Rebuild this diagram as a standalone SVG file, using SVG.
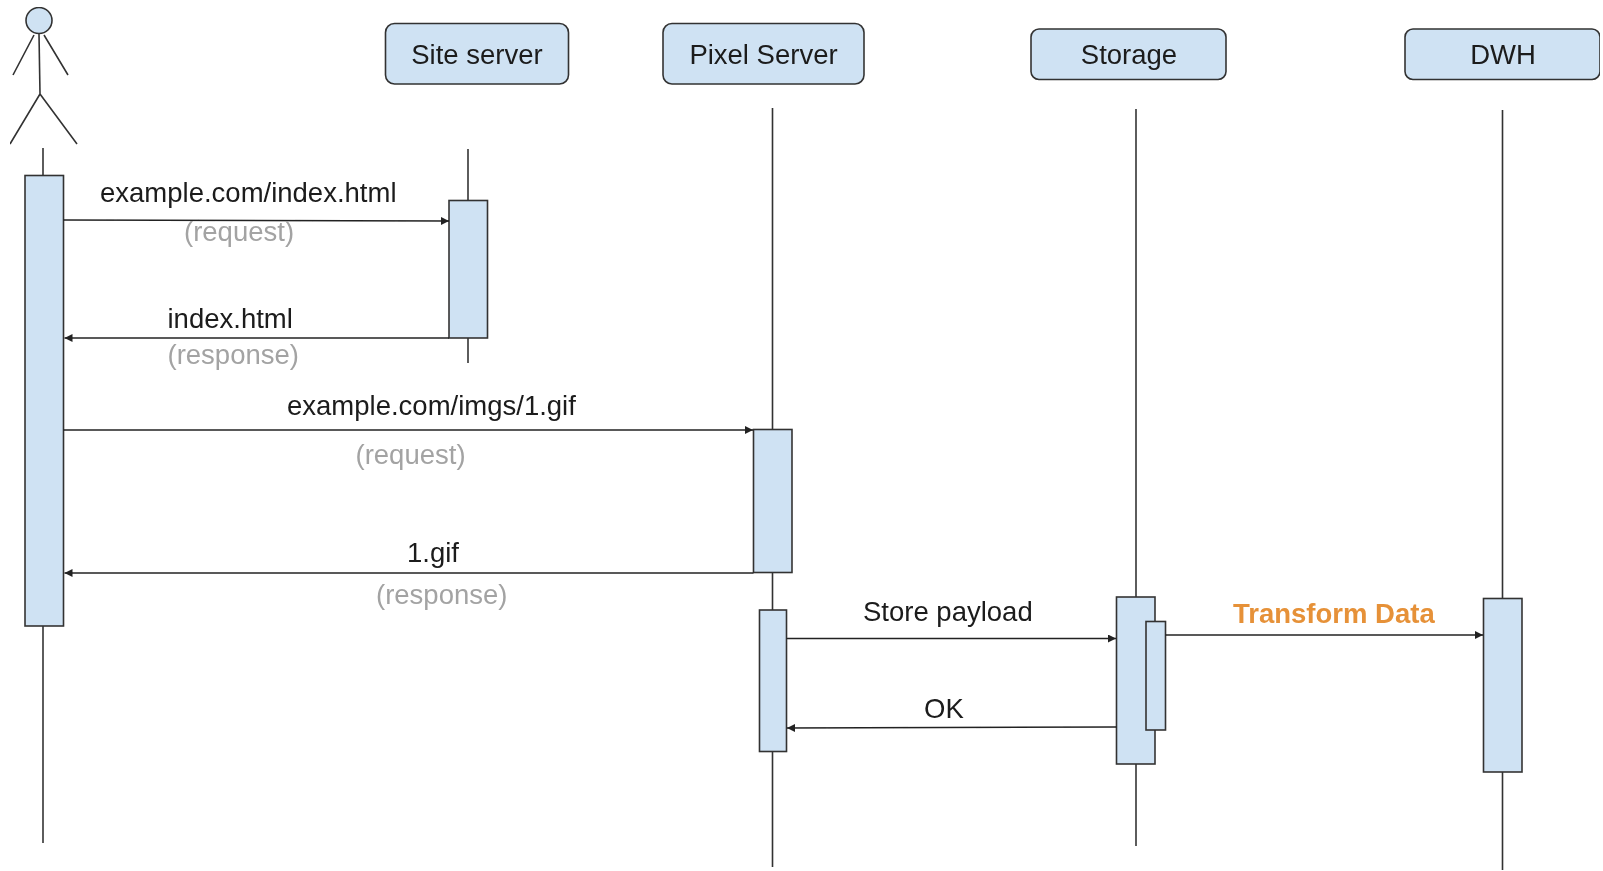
<svg xmlns="http://www.w3.org/2000/svg" width="1603" height="871" viewBox="0 0 1603 871">
<style>
text{font-family:"Liberation Sans",Arial,sans-serif;font-size:27.500px;fill:#1a1a1a}
.m{text-anchor:middle}
.g{fill:#a3a3a3}
.o{fill:#e69138;font-weight:bold}
.b{fill:#cfe2f3;stroke:#333;stroke-width:1.600}
.l{fill:none;stroke:#333;stroke-width:1.600}
.c{fill:none;stroke:#222;stroke-width:1.600;marker-end:url(#a)}
</style>
<defs>
<marker id="a" markerUnits="userSpaceOnUse" markerWidth="10" markerHeight="10" refX="8" refY="4" orient="auto"><path d="M0 0L8 4L0 8z" fill="#222"/></marker>
<filter id="s" x="0" y="0" width="100%" height="100%"><feGaussianBlur stdDeviation="0.500"/></filter>
</defs>
<rect width="1603" height="871" fill="#fff"/>
<g filter="url(#s)">
<g id="lifelines">
<path class="l" d="M43 148V176M43 626V843"/>
<path class="l" d="M468 149V200M468 338V363"/>
<path class="l" d="M772.500 108V429M772.500 572V610M772.500 751V867"/>
<path class="l" d="M1136 109V597M1136 764V846"/>
<path class="l" d="M1502.500 110V598M1502.500 772V870"/>
</g>
<g id="actor"><circle class="b" cx="39" cy="20.500" r="13"/><path class="l" d="M39 34L40 94M34 35L13 75M44 35L68 75M40 94L10 144M40 94L77 144"/></g>
<g id="site-server"><rect class="b" x="385.500" y="23.500" width="183" height="60.500" rx="9"/><text class="m" x="477" y="64">Site server</text></g>
<g id="pixel-server"><rect class="b" x="663" y="23.500" width="201" height="60.500" rx="9"/><text class="m" x="763.500" y="64">Pixel Server</text></g>
<g id="storage"><rect class="b" x="1031" y="29" width="195" height="50.500" rx="8"/><text class="m" x="1129" y="64">Storage</text></g>
<g id="dwh"><rect class="b" x="1405" y="29" width="195" height="50.500" rx="8"/><text class="m" x="1503" y="64">DWH</text></g>
<g id="act-actor"><rect class="b" x="25" y="175.500" width="38.500" height="450.500"/></g>
<g id="act-site"><rect class="b" x="449" y="200.500" width="38.500" height="137.500"/></g>
<g id="act-pixel-1"><rect class="b" x="753.500" y="429.500" width="38.500" height="143"/></g>
<g id="act-pixel-2"><rect class="b" x="759.500" y="610" width="27" height="141.500"/></g>
<g id="act-storage"><rect class="b" x="1116.500" y="597" width="38.500" height="167"/></g>
<g id="act-storage-2"><rect class="b" x="1146" y="621.500" width="19.500" height="108.500"/></g>
<g id="act-dwh"><rect class="b" x="1483.500" y="598.500" width="38.500" height="173.500"/></g>
<g id="connectors">
<path class="c" d="M63.500 220L449 221"/>
<path class="c" d="M449 338H64.500"/>
<path class="c" d="M63.500 430H753"/>
<path class="c" d="M753.500 573H64.500"/>
<path class="c" d="M786.500 638.500H1116"/>
<path class="c" d="M1116.500 727L787 728"/>
<path class="c" d="M1165.500 635H1483"/>
</g>
<g id="labels">
<text x="100" y="202">example.com/index.html</text>
<text class="g" x="184" y="241">(request)</text>
<text x="167.500" y="328">index.html</text>
<text class="g" x="167.500" y="364">(response)</text>
<text x="287" y="415">example.com/imgs/1.gif</text>
<text class="g" x="355.500" y="464">(request)</text>
<text x="407" y="562">1.gif</text>
<text class="g" x="376" y="604">(response)</text>
<text x="863" y="621">Store payload</text>
<text x="924" y="718">OK</text>
<text class="o" x="1233" y="623">Transform Data</text>
</g>
</g>
</svg>
